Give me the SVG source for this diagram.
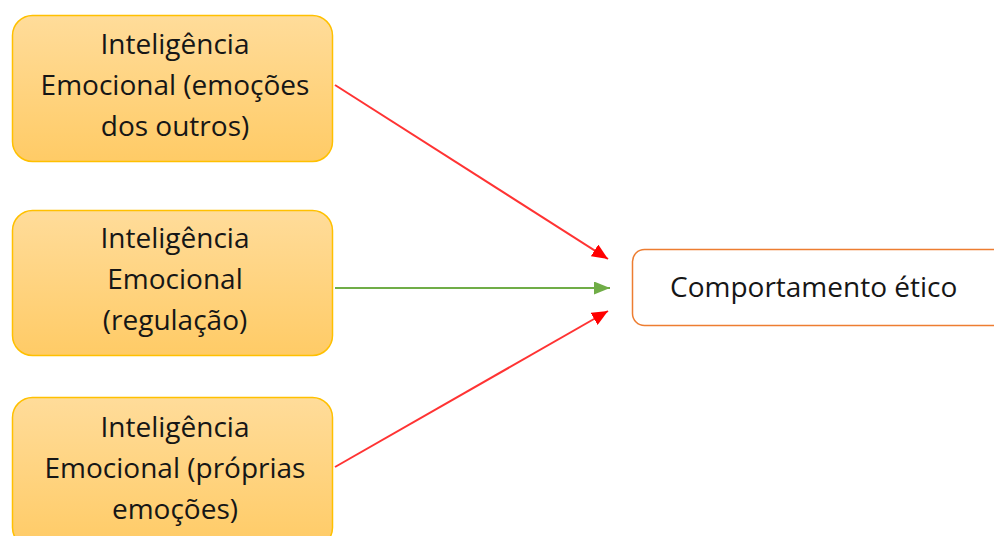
<svg xmlns="http://www.w3.org/2000/svg" width="994" height="536" viewBox="0 0 994 536">
  <style>
    .src { stroke: #FFC000; stroke-width: 1.5; fill: url(#srcFill); }
    .dst { stroke: #ED7D31; stroke-width: 1.5; fill: #FFFFFF; }
    .lbl { font-family: "Open Sans", "Liberation Sans", sans-serif; font-size: 28px; fill: #161616; text-anchor: middle; }
    .red { stroke: #FF3333; stroke-width: 2; fill: none; }
    .green { stroke: #70AD47; stroke-width: 2; fill: none; }
  </style>
  <defs>
    <linearGradient id="srcFill" x1="0" y1="0" x2="0" y2="1">
      <stop offset="0" stop-color="#FFDC9A"/>
      <stop offset="1" stop-color="#FFCB66"/>
    </linearGradient>
    <marker id="arrRed" viewBox="0 0 10 10" refX="10" refY="5" markerWidth="16" markerHeight="14" markerUnits="userSpaceOnUse" orient="auto" preserveAspectRatio="none">
      <path d="M0,0 L10,5 L0,10 z" fill="#FF0000"/>
    </marker>
    <marker id="arrGreen" viewBox="0 0 10 10" refX="10" refY="5" markerWidth="16" markerHeight="13" markerUnits="userSpaceOnUse" orient="auto" preserveAspectRatio="none">
      <path d="M0,0 L10,5 L0,10 z" fill="#70AD47"/>
    </marker>
  </defs>

  <g id="connectors">
    <line class="red" x1="335" y1="85" x2="608" y2="259" marker-end="url(#arrRed)"/>
    <line class="green" x1="335" y1="288" x2="610" y2="288" marker-end="url(#arrGreen)"/>
    <line class="red" x1="335" y1="467" x2="608" y2="311" marker-end="url(#arrRed)"/>
  </g>

  <g id="ie-outros">
    <rect class="src" x="12.5" y="15.5" width="320" height="146" rx="20"/>
    <text class="lbl" x="175" y="54">Inteligência</text>
    <text class="lbl" x="175" y="95">Emocional (emoções</text>
    <text class="lbl" x="175" y="136">dos outros)</text>
  </g>

  <g id="ie-regulacao">
    <rect class="src" x="12.5" y="210.5" width="320" height="145" rx="20"/>
    <text class="lbl" x="175" y="248">Inteligência</text>
    <text class="lbl" x="175" y="289">Emocional</text>
    <text class="lbl" x="175" y="330">(regulação)</text>
  </g>

  <g id="ie-proprias">
    <rect class="src" x="12.5" y="397.5" width="320" height="150" rx="20"/>
    <text class="lbl" x="175" y="437">Inteligência</text>
    <text class="lbl" x="175" y="478">Emocional (próprias</text>
    <text class="lbl" x="175" y="519">emoções)</text>
  </g>

  <g id="comportamento">
    <rect class="dst" x="632.5" y="249.5" width="380" height="76" rx="12"/>
    <text class="lbl" x="670" y="297" style="text-anchor:start">Comportamento ético</text>
  </g>
</svg>
